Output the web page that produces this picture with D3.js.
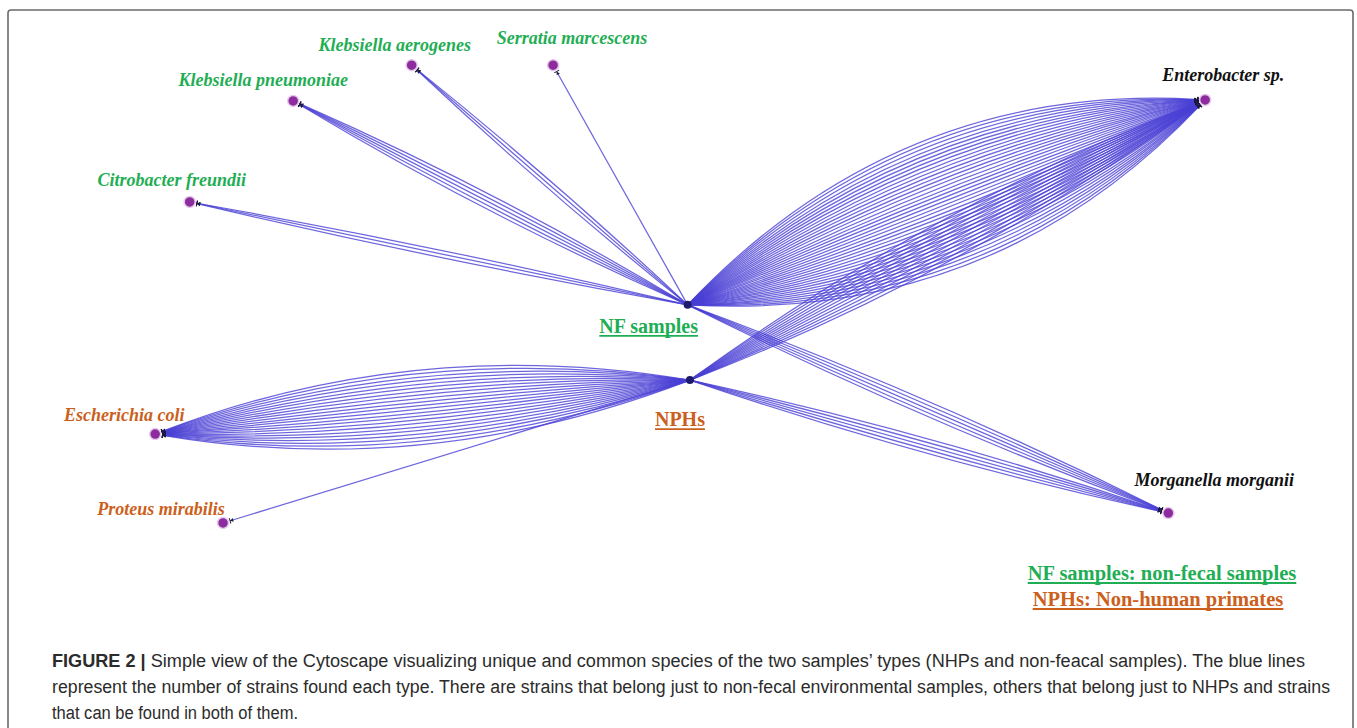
<!DOCTYPE html>
<html>
<head>
<meta charset="utf-8">
<script src="https://cdn.jsdelivr.net/npm/d3@7"></script>
<style>
  body { margin: 0; background: #fff; }
</style>
</head>
<body>
<div id="chart"></div>
<script>
// Species (nodes) and their layout position (Cytoscape layout units, 0-100)
const species = ["Klebsiella pneumoniae", "Klebsiella aerogenes", "Serratia marcescens",
    "Citrobacter freundii", "Enterobacter sp.", "Escherichia coli", "Proteus mirabilis",
    "Morganella morganii"];
const speciesGroup = ["NF", "NF", "NF", "NF", "both", "NPH", "NPH", "both"];
const speciesX = [16.8, 27.1, 39.4, 7.8, 96.1, 4.8, 10.7, 92.9];
const speciesY = [8.7, 1.1, 1.1, 30.2, 8.5, 79.6, 98.5, 96.4];

// Sample types (hub nodes)
const hubs = ["NF samples", "NPHs"];
const hubX = [51.1, 51.3];
const hubY = [52.1, 68.1];

// Links: number of strains found for each sample type / species pair
const linkHub = ["NF samples", "NF samples", "NF samples", "NF samples", "NF samples", "NF samples",
    "NPHs", "NPHs", "NPHs", "NPHs"];
const linkSpecies = ["Klebsiella pneumoniae", "Klebsiella aerogenes", "Serratia marcescens",
    "Citrobacter freundii", "Enterobacter sp.", "Morganella morganii",
    "Enterobacter sp.", "Escherichia coli", "Proteus mirabilis", "Morganella morganii"];
const linkStrains = [5, 3, 1, 3, 38, 5, 12, 22, 1, 5];

const legendLines = ["NF samples: non-fecal samples", "NPHs: Non-human primates"];
const captionLines = [
    ["FIGURE 2 | ", "Simple view of the Cytoscape visualizing unique and common species of the two samples\u2019 types (NHPs and non-feacal samples). The blue lines"],
    ["", "represent the number of strains found each type. There are strains that belong just to non-fecal environmental samples, others that belong just to NHPs and strains"],
    ["", "that can be found in both of them."]
];

const width = 1357, height = 728;
const green = "#1fae55", orange = "#cc5f1c", edgeColor = "#4a40d4";
const groupColor = { NF: green, NPH: orange, both: "#111" };
// label offsets from node centre (px)
const labelDx = [-30, -17, 19, -18, 18, -31, -62, 46];
const labelDy = [-15, -14, -21, -16, -19, -13, -8, -27];

const svg = d3.select("#chart")
    .append("svg")
    .attr("width", width)
    .attr("height", height)
    .style("font-family", "'Liberation Serif', 'Times New Roman', serif");

// frame
svg.append("rect")
    .attr("x", 8).attr("y", 10)
    .attr("width", 1345).attr("height", 740)
    .attr("rx", 3)
    .attr("fill", "none")
    .attr("stroke", "#6a6a6a")
    .attr("stroke-width", 1.6);

const x = d3.scaleLinear().domain([0, 100]).range([100, 1250]);
const y = d3.scaleLinear().domain([0, 100]).range([60, 530]);

const pos = {};
species.forEach((s, i) => pos[s] = [x(speciesX[i]), y(speciesY[i])]);
hubs.forEach((h, i) => pos[h] = [x(hubX[i]), y(hubY[i])]);

svg.append("defs").append("marker")
    .attr("id", "tee")
    .attr("viewBox", "0 -5 6 10")
    .attr("refX", 5).attr("refY", 0)
    .attr("markerWidth", 4).attr("markerHeight", 5)
    .attr("orient", "auto")
    .append("path")
    .attr("d", "M0,-3L5,0L0,3Z M4.5,-4.5L6,-4.5L6,4.5L4.5,4.5Z")
    .attr("fill", "#1b1b3a");

// parallel edges drawn as fanned quadratic curves
const step = 7, nodeR = 5.5;
const edges = [];
linkHub.forEach((h, li) => {
    const n = linkStrains[li];
    const [x0, y0] = pos[h];
    const [x1, y1] = pos[linkSpecies[li]];
    const dx = x1 - x0, dy = y1 - y0, len = Math.hypot(dx, dy);
    const nx = -dy / len, ny = dx / len;
    for (let i = 0; i < n; i++) {
        const k = i - (n - 1) / 2;
        const cx = (x0 + x1) / 2 + nx * k * step;
        const cy = (y0 + y1) / 2 + ny * k * step;
        const ex = x1 - cx, ey = y1 - cy, el = Math.hypot(ex, ey);
        const p = d3.path();
        p.moveTo(x0, y0);
        p.quadraticCurveTo(cx, cy, x1 - ex / el * (nodeR + 2), y1 - ey / el * (nodeR + 2));
        edges.push({ d: p.toString() });
    }
});

svg.append("g")
    .selectAll("path")
    .data(edges)
    .enter().append("path")
    .attr("d", d => d.d)
    .attr("fill", "none")
    .attr("stroke", edgeColor)
    .attr("stroke-width", 1.25)
    .attr("stroke-opacity", 0.8)
    .attr("marker-end", "url(#tee)");

// species nodes
svg.append("g")
    .selectAll("circle")
    .data(species)
    .enter().append("circle")
    .attr("cx", d => pos[d][0])
    .attr("cy", d => pos[d][1])
    .attr("r", nodeR)
    .attr("fill", "#8d2c9c")
    .attr("stroke", "#e6c8ec")
    .attr("stroke-width", 1.5);

// hub nodes
svg.append("g")
    .selectAll("circle")
    .data(hubs)
    .enter().append("circle")
    .attr("cx", d => pos[d][0])
    .attr("cy", d => pos[d][1])
    .attr("r", 4)
    .attr("fill", "#1d1a6b");

// species labels
svg.append("g")
    .selectAll("text")
    .data(species)
    .enter().append("text")
    .attr("x", (d, i) => pos[d][0] + labelDx[i])
    .attr("y", (d, i) => pos[d][1] + labelDy[i])
    .attr("text-anchor", "middle")
    .attr("font-size", 18)
    .attr("font-weight", "bold")
    .attr("font-style", "italic")
    .attr("fill", (d, i) => groupColor[speciesGroup[i]])
    .text(d => d);

// underlined bold labels
function underlined(txt, cx, by, color, size) {
    const t = svg.append("text")
        .attr("x", cx).attr("y", by)
        .attr("text-anchor", "middle")
        .attr("font-size", size)
        .attr("font-weight", "bold")
        .attr("fill", color)
        .text(txt);
    const w = t.node().getComputedTextLength();
    svg.append("line")
        .attr("x1", cx - w / 2).attr("x2", cx + w / 2)
        .attr("y1", by + 3).attr("y2", by + 3)
        .attr("stroke", color).attr("stroke-width", 1.8);
}
underlined(hubs[0], pos[hubs[0]][0] - 39, pos[hubs[0]][1] + 28, green, 20);
underlined(hubs[1], pos[hubs[1]][0] - 10, pos[hubs[1]][1] + 46, orange, 20);
underlined(legendLines[0], 1162, 580, green, 20.5);
underlined(legendLines[1], 1158, 606, orange, 20.5);

// caption
const capEnds = [1305, 1330, 298];
captionLines.forEach((ln, i) => {
    const t = svg.append("text")
        .attr("x", 52)
        .attr("y", 667 + i * 26)
        .attr("font-family", "'Liberation Sans Narrow', 'Liberation Sans', Arial, sans-serif")
        .attr("font-size", 18)
        .attr("fill", "#2b2b2b")
        .attr("textLength", capEnds[i] - 52)
        .attr("lengthAdjust", "spacingAndGlyphs");
    t.append("tspan").attr("font-weight", "bold").text(ln[0]);
    t.append("tspan").text(ln[1]);
});
</script>
</body>
</html>
